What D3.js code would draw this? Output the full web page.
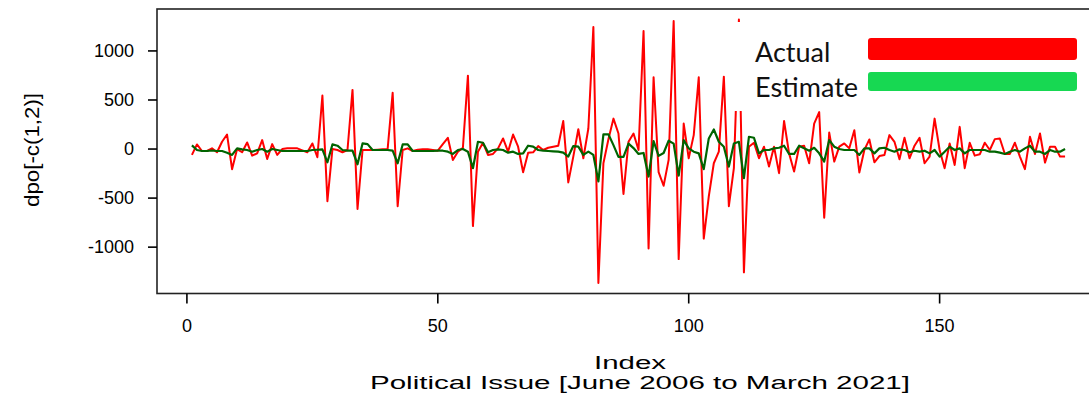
<!DOCTYPE html>
<html>
<head>
<meta charset="utf-8">
<script src="https://cdn.jsdelivr.net/npm/d3@7"></script>
<style>
  body { margin: 0; background: #fff; }
  svg { display: block; }
</style>
</head>
<body>
<svg id="chart"></svg>
<script>
// dpo[-c(1,2)] : actual vs fitted, index 1..175
const actual = [
  -60, 47, -20, -20, 7, -33, 74, 148, -205, 0,
  -33, 67, -67, -44, 91, -101, 50, -60, 0, 7,
  7, 7, -13, -33, 57, -84, 546, -532, 0, -10,
  -33, -10, 603, -610, -10, -10, -10, -7, -3, 0,
  573, -583, -10, 7, -20, -7, -3, -3, -10, -17,
  50, 115, -111, -27, 13, 748, -785, -27, 64, -60,
  -50, 7, 108, -27, 148, 24, -236, -37, -33, 30,
  -10, 13, 24, 34, 286, -340, -77, 202, -94, 209,
  1243, -1365, -145, 100, 310, 158, -458, 74, 158, -10,
  1203, -1014, 731, -236, -374, -111, 1304, -1122, 260, -94,
  142, 731, -913, -482, -145, -27, 738, -583, -195, 1320,
  -1257, 24, 64, -94, 24, -179, 24, -246, 286, -44,
  -229, 24, 34, -145, 260, 377, -700, 168, -128, 24,
  57, 7, 192, -239, -10, 98, -135, -71, -60, 142,
  74, -104, 115, -94, 34, 115, -145, -77, 310, -10,
  -195, 57, -162, 226, -195, 64, -67, -54, 64, -10,
  101, 108, -50, -50, 64, -77, -205, 125, -50, 158,
  -138, 24, 24, -77, -77
];

const estimate = [
  37, -10, -20, -20, -15, -20, -20, -37, -60, 7,
  -3, -10, -27, -10, 0, -27, 0, -10, -20, -20,
  -20, -20, -20, -20, -10, -7, -3, -135, 47, 34,
  -10, -17, -17, -155, 57, 50, -10, -10, -10, -10,
  -17, -145, 47, 47, -20, -20, -20, -20, -20, -17,
  -17, -27, -50, -10, 0, -27, -195, 74, 64, -33,
  -10, -3, -10, -37, -27, -50, -44, 34, 24, -10,
  -17, -20, -23, -27, -37, -77, 30, 24, -60, -27,
  -60, -330, 150, 150, 40, -80, -80, 55, 10, -50,
  -40, -280, 80, -70, -40, 85, 55, -270, 91, 7,
  -27, -44, -205, 108, 199, 74, 24, -179, 57, 74,
  -297, 125, 115, -44, -10, -10, 7, 13, 34, -50,
  -50, 34, 7, -17, 13, -44, -128, 91, 24, 0,
  -10, -10, -10, -60, 7, 7, -44, 7, 13, -10,
  -27, -3, -10, -33, -17, -27, -17, -44, -10, -77,
  -27, 24, -10, 7, -44, -10, -10, -10, -10, -27,
  -27, -37, -50, -27, -10, -27, 7, 34, -27, -27,
  -50, -10, -27, -27, 0
];

const xTicks = [0, 50, 100, 150];
const yTicks = [-1000, -500, 0, 500, 1000];
const legendLabels = ["Actual", "Estimate"];
const legendColors = ["#ff0000", "#17d852"];

const width = 1089, height = 395;
const svg = d3.select("#chart").attr("width", width).attr("height", height);

const idx = d3.range(1, actual.length + 1);

// R style 4% padding on both axes
const xPad = (d3.max(idx) - d3.min(idx)) * 0.04;
const x = d3.scaleLinear()
  .domain([d3.min(idx) - xPad, d3.max(idx) + xPad])
  .range([157, 1100]);

const yExt = d3.extent(actual.concat(estimate));
const yPad = (yExt[1] - yExt[0]) * 0.04;
const y = d3.scaleLinear()
  .domain([yExt[0] - yPad, yExt[1] + yPad])
  .range([293.5, 9]);

const axisFont = "Liberation Sans, Arial, sans-serif";

// plot box
svg.append("rect")
  .attr("x", x.range()[0])
  .attr("y", y.range()[1])
  .attr("width", x.range()[1] - x.range()[0])
  .attr("height", y.range()[0] - y.range()[1])
  .attr("fill", "none")
  .attr("stroke", "#222")
  .attr("stroke-width", 1.6);

// x axis
const xAxis = svg.append("g").attr("class", "x-axis");
xAxis.selectAll("line")
  .data(xTicks).enter()
  .append("line")
  .attr("x1", d => x(d)).attr("x2", d => x(d))
  .attr("y1", y.range()[0]).attr("y2", y.range()[0] + 10)
  .attr("stroke", "#000").attr("stroke-width", 1.6);
xAxis.selectAll("text")
  .data(xTicks).enter()
  .append("text")
  .attr("x", d => x(d))
  .attr("y", 332)
  .attr("text-anchor", "middle")
  .style("font-family", axisFont)
  .style("font-size", "18px")
  .text(d => d);

// y axis
const yAxis = svg.append("g").attr("class", "y-axis");
yAxis.selectAll("line")
  .data(yTicks).enter()
  .append("line")
  .attr("x1", x.range()[0] - 9).attr("x2", x.range()[0])
  .attr("y1", d => y(d)).attr("y2", d => y(d))
  .attr("stroke", "#000").attr("stroke-width", 1.6);
yAxis.selectAll("text")
  .data(yTicks).enter()
  .append("text")
  .attr("x", 134)
  .attr("y", d => y(d) + 6)
  .attr("text-anchor", "end")
  .style("font-family", axisFont)
  .style("font-size", "18px")
  .text(d => d);

// axis titles
svg.append("text")
  .attr("transform", "translate(39,150) rotate(-90)")
  .attr("text-anchor", "middle")
  .attr("textLength", 114)
  .attr("lengthAdjust", "spacingAndGlyphs")
  .style("font-family", axisFont)
  .style("font-size", "21px")
  .text("dpo[-c(1,2)]");

svg.append("text")
  .attr("x", 630).attr("y", 369)
  .attr("text-anchor", "middle")
  .attr("textLength", 72)
  .attr("lengthAdjust", "spacingAndGlyphs")
  .style("font-family", axisFont)
  .style("font-size", "18px")
  .text("Index");

svg.append("text")
  .attr("x", 640).attr("y", 389)
  .attr("text-anchor", "middle")
  .attr("textLength", 540)
  .attr("lengthAdjust", "spacingAndGlyphs")
  .style("font-family", axisFont)
  .style("font-size", "18px")
  .text("Political Issue [June 2006 to March 2021]");

// series
const line = d3.line()
  .x((d, i) => x(idx[i]))
  .y(d => y(d));

svg.append("path")
  .datum(actual)
  .attr("fill", "none")
  .attr("stroke", "#ff0000")
  .attr("stroke-width", 2)
  .attr("stroke-linejoin", "round")
  .attr("d", line);

svg.append("path")
  .datum(estimate)
  .attr("fill", "none")
  .attr("stroke", "#006400")
  .attr("stroke-width", 2.2)
  .attr("stroke-linejoin", "round")
  .attr("d", line);

// pasted legend (white background covers the lines)
const legend = svg.append("g").attr("class", "legend");
legend.append("rect")
  .attr("x", 729).attr("y", 22)
  .attr("width", 360).attr("height", 89)
  .attr("fill", "#fff");

legend.selectAll("text")
  .data(legendLabels).enter()
  .append("text")
  .attr("x", 755)
  .attr("y", (d, i) => 62 + i * 35)
  .style("font-family", "Lato, 'Open Sans', sans-serif")
  .style("font-size", "27px")
  .attr("fill", "#111")
  .text(d => d);

legend.selectAll("rect.key")
  .data(legendColors).enter()
  .append("rect")
  .attr("class", "key")
  .attr("x", 868)
  .attr("y", (d, i) => 38 + i * 34)
  .attr("width", 209)
  .attr("height", (d, i) => i === 0 ? 22 : 19)
  .attr("rx", 3)
  .attr("fill", d => d);
</script>
</body>
</html>
